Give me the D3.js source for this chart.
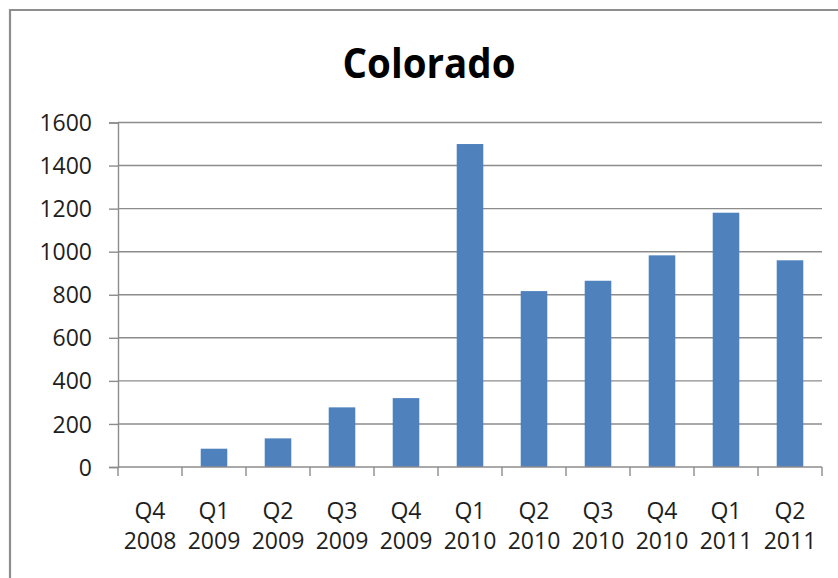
<!DOCTYPE html>
<html>
<head>
<meta charset="utf-8">
<script src="https://cdn.jsdelivr.net/npm/d3@7"></script>
<style>
  html, body { margin: 0; padding: 0; background: #fff; }
  svg { display: block; }
</style>
</head>
<body>
<svg id="chart" width="838" height="578"></svg>
<script>
// Quarterly values for Colorado
const quarters = ["Q4", "Q1", "Q2", "Q3", "Q4", "Q1", "Q2", "Q3", "Q4", "Q1", "Q2"];
const years = ["2008", "2009", "2009", "2009", "2009", "2010", "2010", "2010", "2010", "2011", "2011"];
const values = [0, 85, 133, 277, 320, 1500, 817, 865, 983, 1181, 960];
const yTicks = [0, 200, 400, 600, 800, 1000, 1200, 1400, 1600];
const title = "Colorado";

const svg = d3.select("#chart");
const font = "'Open Sans', 'Noto Sans', sans-serif";
const gridColor = "#8c8c8c";
const textColor = "#1e1e1e";

const plot = { left: 118, right: 822, top: 122.5, bottom: 467 };
const keys = quarters.map((q, i) => i);

const x = d3.scaleBand()
  .domain(keys)
  .range([plot.left, plot.right])
  .paddingInner(0.585)
  .paddingOuter(0.2925);

const y = d3.scaleLinear()
  .domain([0, 1600])
  .range([plot.bottom, plot.top]);

// outer frame (top and left edges visible)
svg.append("path")
  .attr("d", `M10,${578}V10H${838}`)
  .attr("fill", "none")
  .attr("stroke", "#8e8e8e")
  .attr("stroke-width", 2.2);

// title
svg.append("text")
  .attr("x", 429)
  .attr("y", 78)
  .attr("text-anchor", "middle")
  .attr("font-family", font)
  .attr("font-weight", 700)
  .attr("font-size", 42)
  .attr("textLength", 173)
  .attr("lengthAdjust", "spacingAndGlyphs")
  .attr("fill", "#000")
  .text(title);

// horizontal gridlines
svg.append("g")
  .selectAll("line")
  .data(yTicks.filter(d => d > 0))
  .join("line")
  .attr("x1", plot.left)
  .attr("x2", plot.right)
  .attr("y1", d => y(d))
  .attr("y2", d => y(d))
  .attr("stroke", gridColor)
  .attr("stroke-width", 1.4);

// y axis
const yAxis = svg.append("g")
  .attr("transform", `translate(${plot.left},0)`)
  .call(d3.axisLeft(y).tickValues(yTicks).tickSize(9).tickPadding(17).tickFormat(d3.format("d")));
yAxis.select(".domain").attr("stroke", gridColor).attr("stroke-width", 1.4);
yAxis.selectAll(".tick line").attr("stroke", gridColor).attr("stroke-width", 1.4);
yAxis.selectAll(".tick text")
  .attr("font-family", font)
  .attr("font-size", 23)
  .attr("fill", textColor)
  .attr("dy", "0.35em");

// bars
svg.append("g")
  .selectAll("rect")
  .data(values)
  .join("rect")
  .attr("x", (d, i) => x(i))
  .attr("width", x.bandwidth())
  .attr("y", d => y(d))
  .attr("height", d => y(0) - y(d))
  .attr("fill", "#4f81bd");

// x axis line and ticks at category boundaries
svg.append("line")
  .attr("x1", plot.left)
  .attr("x2", plot.right)
  .attr("y1", plot.bottom)
  .attr("y2", plot.bottom)
  .attr("stroke", gridColor)
  .attr("stroke-width", 1.4);

const step = x.step();
const boundaries = d3.range(keys.length + 1).map(i => plot.left + i * (plot.right - plot.left) / keys.length);
svg.append("g")
  .selectAll("line")
  .data(boundaries)
  .join("line")
  .attr("x1", d => d)
  .attr("x2", d => d)
  .attr("y1", plot.bottom)
  .attr("y2", plot.bottom + 9)
  .attr("stroke", gridColor)
  .attr("stroke-width", 1.4);

// two-line category labels
const labels = svg.append("g")
  .selectAll("text")
  .data(keys)
  .join("text")
  .attr("text-anchor", "middle")
  .attr("font-family", font)
  .attr("font-size", 23)
  .attr("fill", textColor);
labels.append("tspan")
  .attr("x", i => x(i) + x.bandwidth() / 2)
  .attr("y", 519)
  .text(i => quarters[i]);
labels.append("tspan")
  .attr("x", i => x(i) + x.bandwidth() / 2)
  .attr("y", 549)
  .text(i => years[i]);
</script>
</body>
</html>
